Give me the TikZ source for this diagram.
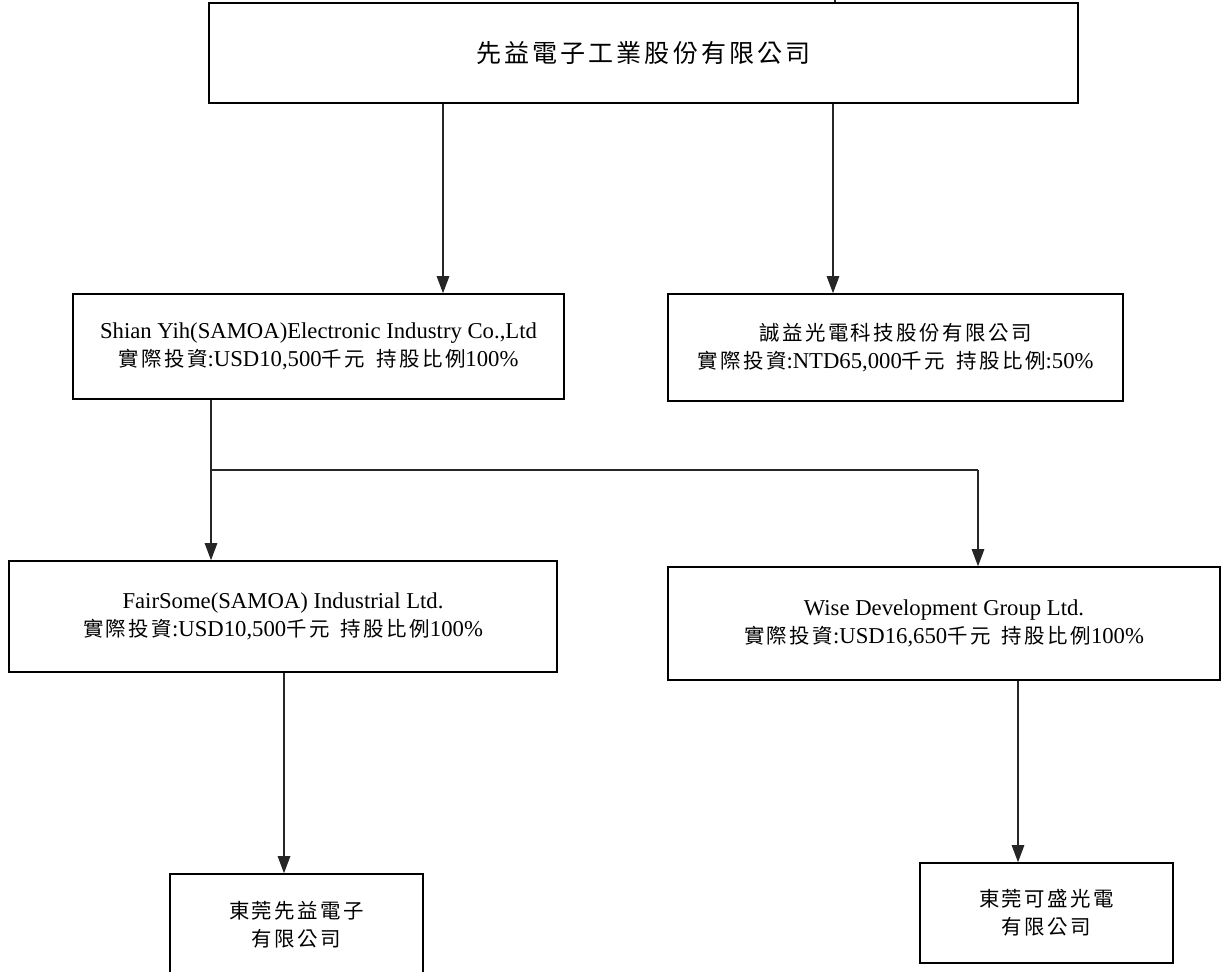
\documentclass[tikz,border=0pt]{standalone}
\usepackage{fontspec}
\setmainfont{Liberation Serif}
\newfontfamily\cjkfont[Scale=0.9,LetterSpace=12]{Noto Sans CJK TC}
\newcommand{\C}[1]{{\cjkfont #1}}
\usetikzlibrary{arrows.meta}
\tikzset{
  box/.style={draw=black, line width=1.6pt, fill=white, align=center, inner sep=0pt,
    font=\fontsize{22.7}{28.5}\selectfont},
  conn/.style={draw=black!85, line width=1.1pt},
  arr/.style={conn, -{Triangle[length=17pt,width=12.5pt]}},
}
\begin{document}
\begin{tikzpicture}[x=1pt,y=-1pt]
\useasboundingbox (0,0) rectangle (1222,971);

\node[box, minimum width=869pt, minimum height=100pt, font=\fontsize{27.8}{33}\selectfont] (top) at (643.5,53) {\C{先益電子工業股份有限公司}};
\node[box, minimum width=491pt, minimum height=105pt] (shian) at (318.5,346.5)
  {Shian Yih(SAMOA)Electronic Industry Co.,Ltd\\ \C{實際投資}:USD10,500\C{千元}\enspace\C{持股比例}100\%};
\node[box, minimum width=455pt, minimum height=107pt] (cy) at (895.5,347.5)
  {\C{誠益光電科技股份有限公司}\\ \C{實際投資}:NTD65,000\C{千元}\enspace\C{持股比例}:50\%};
\node[box, minimum width=548pt, minimum height=111pt] (fair) at (283,616.5)
  {FairSome(SAMOA) Industrial Ltd.\\ \C{實際投資}:USD10,500\C{千元}\enspace\C{持股比例}100\%};
\node[box, minimum width=552pt, minimum height=113pt] (wise) at (944,623.5)
  {Wise Development Group Ltd.\\ \C{實際投資}:USD16,650\C{千元}\enspace\C{持股比例}100\%};
\node[box, minimum width=253pt, minimum height=102pt] (dgxy) at (296.5,925)
  {\C{東莞先益電子}\\ \C{有限公司}};
\node[box, minimum width=253pt, minimum height=100pt] (dgks) at (1046.5,913)
  {\C{東莞可盛光電}\\ \C{有限公司}};

\coordinate (in) at (835,-20);
\coordinate (a1) at (443,0);
\coordinate (a2) at (833,0);
\coordinate (b1) at (211,470);
\coordinate (b2) at (978,470);
\coordinate (c1) at (284,0);
\coordinate (c2) at (1018,0);

\draw[conn] (in) -- (in |- top.north);
\draw[arr] (a1 |- top.south) -- (a1 |- shian.north);
\draw[arr] (a2 |- top.south) -- (a2 |- cy.north);
\draw[conn] (b1 |- shian.south) -- (b1) -- (b2);
\draw[arr] (b1) -- (b1 |- fair.north);
\draw[arr] (b2) -- (b2 |- wise.north);
\draw[arr] (c1 |- fair.south) -- (c1 |- dgxy.north);
\draw[arr] (c2 |- wise.south) -- (c2 |- dgks.north);
\end{tikzpicture}
\end{document}
